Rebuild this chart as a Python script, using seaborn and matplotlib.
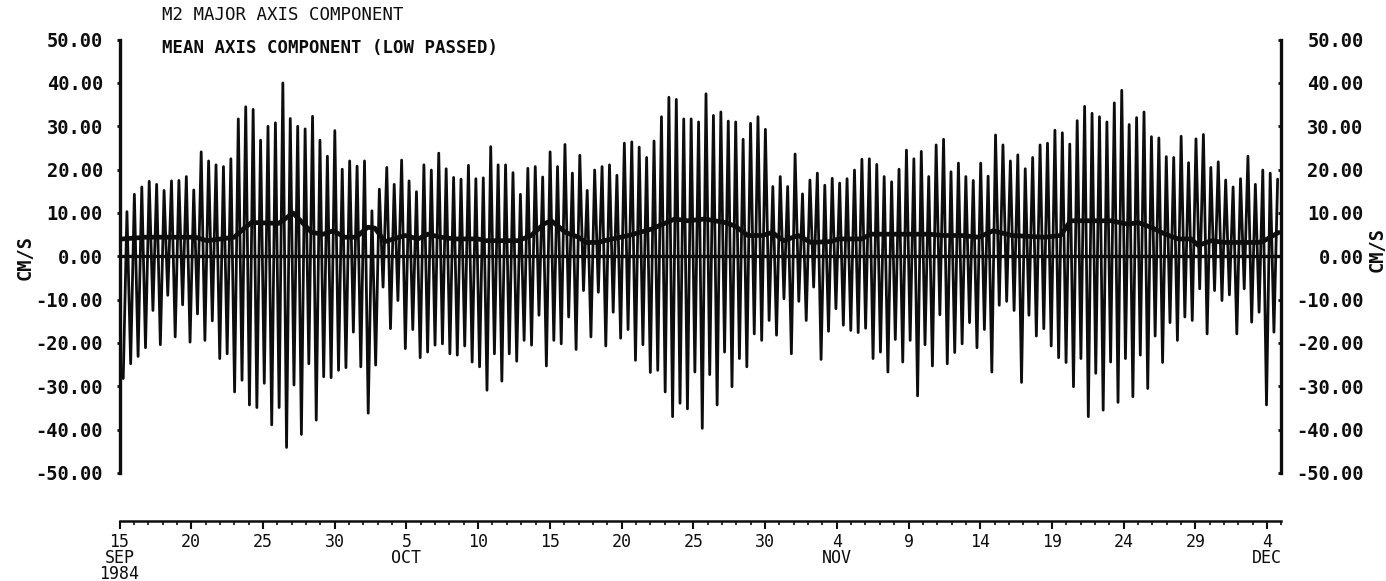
import numpy as np
import pandas as pd
import matplotlib
matplotlib.use("Agg")
import matplotlib.pyplot as plt
import seaborn as sns

# ---------------- text ----------------
title_top = "M2 MAJOR AXIS COMPONENT"
title_mean = "MEAN AXIS COMPONENT (LOW PASSED)"
y_label = "CM/S"

# ---------------- data ----------------
# time of the first extreme (days after 15 Sep 1984) and spacing of extremes (half an M2 cycle)
first_extreme_day = 0.26
half_cycle_hours = 6.21

# successive low (trough) values of the M2 major-axis current, cm/s
m2_lows = [
    -28.2, -24.8, -23.1, -21.1, -12.5, -20.4, -9.0, -18.6, -11.2, -19.8, -13.3, -19.4, -14.9, -23.6, -22.5,
    -31.3, -28.6, -34.3, -34.9, -29.3, -38.9, -34.9, -44.1, -29.7, -41.1, -24.8, -37.8, -27.8, -28.0, -26.3, -25.7,
    -17.5, -25.5, -36.2, -25.1, -7.1, -16.7, -10.2, -21.3, -16.9, -23.4, -22.1, -20.5, -20.2, -22.5, -22.8, -20.7,
    -24.4, -25.5, -30.9, -22.5, -28.8, -22.5, -24.2, -19.4, -20.5, -13.6, -25.3, -19.4, -20.2, -14.0, -21.5, -7.9,
    -18.6, -8.3, -20.7, -12.9, -18.9, -16.9, -24.0, -20.4, -26.8, -26.3, -31.3, -37.0, -33.9, -35.2, -26.7,
    -39.7, -27.3, -34.3, -22.1, -30.1, -23.6, -25.5, -17.9, -19.4, -14.8, -18.2, -9.8, -22.5, -10.4, -14.8,
    -7.1, -23.8, -17.3, -12.1, -15.9, -17.1, -17.6, -16.6, -23.6, -22.1, -26.7, -19.2, -24.4, -19.4, -32.2, -20.4,
    -25.3, -13.5, -24.8, -22.2, -20.2, -15.3, -21.1, -16.9, -26.7, -11.3, -10.4, -12.5, -29.1, -13.6, -18.4, -16.7, -20.7,
    -23.4, -24.5, -30.1, -23.6, -37.0, -27.0, -35.5, -24.4, -33.7, -23.6, -32.4, -22.8, -30.5, -18.4, -24.5,
    -15.3, -19.4, -14.0, -14.8, -7.5, -17.9, -7.9, -10.2, -8.9, -17.9, -7.5, -15.2, -12.9, -34.3, -17.5,
]

# successive high (crest) values, cm/s
m2_highs = [
    10.3, 14.3, 16.0, 17.3, 16.6, 15.2, 17.4, 17.5, 18.4, 15.3, 24.1, 22.0, 21.1, 20.7, 22.5, 31.7,
    34.5, 33.9, 26.8, 30.0, 30.8, 40.0, 31.8, 30.0, 29.4, 32.3, 26.8, 23.1, 29.0, 20.1, 22.0,
    20.8, 22.0, 10.5, 15.5, 20.5, 16.6, 22.2, 17.4, 14.9, 21.1, 19.9, 23.8, 20.2, 18.2, 17.8, 21.0,
    17.9, 18.1, 25.3, 21.1, 21.1, 19.3, 14.3, 20.3, 20.7, 18.3, 24.1, 20.7, 25.8, 19.2, 23.3,
    15.2, 19.9, 20.7, 21.1, 18.7, 26.1, 26.4, 25.2, 22.8, 26.6, 32.2, 36.7, 36.2, 31.7, 31.7, 31.0,
    37.5, 32.5, 33.3, 31.2, 31.0, 27.0, 30.7, 32.2, 29.3, 16.1, 18.4, 16.1, 23.6, 14.4, 17.6,
    19.2, 16.4, 18.0, 16.9, 17.9, 19.9, 22.4, 22.5, 21.2, 18.4, 17.2, 20.1, 24.5, 22.5, 24.2, 18.4,
    25.7, 27.0, 19.5, 21.5, 18.4, 17.5, 21.5, 18.5, 28.0, 25.7, 22.0, 23.4, 20.2, 22.8, 25.7, 26.1,
    29.1, 28.5, 25.9, 31.3, 34.6, 33.0, 32.2, 31.0, 35.4, 38.3, 30.4, 32.0, 33.3, 27.6, 27.3, 23.0,
    22.8, 27.7, 21.6, 27.1, 28.1, 20.5, 21.8, 17.6, 16.0, 17.9, 23.1, 16.6, 19.9, 19.2, 17.8,
]

# low-passed mean axis component: days after 15 Sep 1984 and cm/s
mean_day = [0.2, 1.8, 5.3, 6.1, 8.0, 8.7, 9.2, 11.1, 12.1, 13.4, 14.2, 14.9, 15.7, 16.5, 17.3, 17.8,
            18.5, 19.9, 20.8, 21.5, 22.4, 23.4, 25.0, 25.5, 27.8, 28.7, 29.6, 30.1, 31.1, 32.0, 32.5,
            33.4, 33.8, 35.5, 37.1, 38.7, 39.6, 40.8, 42.2, 42.9, 43.8, 44.8, 45.5, 46.3, 47.3, 48.2,
            49.6, 50.1, 51.7, 52.4, 56.4, 57.5, 58.7, 59.9, 60.9, 62.2, 64.5, 65.6, 66.3, 69.1, 70.3,
            71.0, 71.9, 72.9, 73.8, 74.7, 75.2, 76.1, 77.0, 79.4, 79.8, 80.8]
mean_val = [4.0, 4.4, 4.4, 3.6, 4.4, 6.5, 7.8, 7.6, 10.0, 5.5, 5.1, 5.9, 4.4, 4.4, 6.7, 6.5,
            3.4, 4.8, 4.0, 5.1, 4.4, 4.0, 4.0, 3.6, 3.6, 4.8, 7.5, 8.2, 5.5, 4.4, 3.2,
            3.2, 3.6, 4.8, 6.3, 8.6, 8.2, 8.6, 7.8, 7.0, 4.8, 4.8, 5.5, 3.6, 4.8, 3.2,
            3.4, 4.0, 4.0, 5.1, 5.1, 4.8, 4.8, 4.4, 5.9, 4.8, 4.4, 4.8, 8.2, 8.2, 7.4,
            7.8, 6.7, 5.1, 4.0, 4.0, 2.5, 3.6, 3.2, 3.2, 3.6, 5.5]

x_limits = [0, 81]
x_tick_days = list(range(0, 81, 5))
x_tick_labels = ["15\nSEP\n1984", "20", "25", "30", "5\nOCT", "10", "15", "20", "25", "30",
                 "4\nNOV", "9", "14", "19", "24", "29", "4\nDEC"]
x_minor_days = list(range(0, 82))
y_ticks = [-50, -40, -30, -20, -10, 0, 10, 20, 30, 40, 50]
y_tick_labels = ["-50.00", "-40.00", "-30.00", "-20.00", "-10.00", "0.00",
                 "10.00", "20.00", "30.00", "40.00", "50.00"]

# ---------------- build series ----------------
n = min(len(m2_lows), len(m2_highs))
extremes = np.empty(2 * n)
extremes[0::2] = m2_lows[:n]
extremes[1::2] = m2_highs[:n]
days = first_extreme_day + np.arange(2 * n) * half_cycle_hours / 24.0
df = pd.DataFrame({"day": days, "cms": extremes})
df_mean = pd.DataFrame({"day": mean_day, "cms": mean_val})

# ---------------- style ----------------
sns.set_style("white")
plt.rcParams["font.family"] = ["DejaVu Sans Mono", "DejaVu Sans"]
ink = "#0d0d0d"

fig = plt.figure(figsize=(13.86, 5.81), dpi=100)
ax = fig.add_axes([0.08622, 0.18589, 0.83838, 0.74596])

sns.lineplot(data=df, x="day", y="cms", ax=ax, color=ink, linewidth=2.0,
             estimator=None, sort=False)
ax.axhline(0, color=ink, linewidth=2.4, zorder=3)
sns.lineplot(data=df_mean, x="day", y="cms", ax=ax, color=ink, linewidth=3.4,
             estimator=None, sort=False, zorder=4)

ax.set_xlim(*x_limits)
ax.set_ylim(-50, 50)
ax.set_xlabel("")
ax.set_ylabel("")

# spines
ax.spines["top"].set_visible(False)
ax.spines["right"].set_visible(False)
ax.spines["left"].set_linewidth(2.4)
ax.spines["left"].set_color(ink)
ax.spines["bottom"].set_position(("outward", 34.5))
ax.spines["bottom"].set_linewidth(1.8)
ax.spines["bottom"].set_color(ink)

# x axis
ax.set_xticks(x_tick_days)
ax.set_xticklabels(x_tick_labels, fontsize=12, linespacing=0.88, color=ink)
ax.set_xticks(x_minor_days, minor=True)
ax.tick_params(axis="x", which="major", direction="out", length=5.5, width=1.5,
               color=ink, pad=3.0, bottom=True)
ax.tick_params(axis="x", which="minor", direction="out", length=2.6, width=1.2,
               color=ink, bottom=True)

# left y axis
ax.set_yticks(y_ticks)
ax.set_yticklabels(y_tick_labels, fontsize=13.5, fontweight="bold", color=ink)
ax.tick_params(axis="y", which="major", direction="out", length=2.0, width=2.0,
               color=ink, pad=10, left=True)

# right y axis
ax2 = ax.twinx()
ax2.set_ylim(-50, 50)
for side in ("top", "left", "bottom"):
    ax2.spines[side].set_visible(False)
ax2.spines["right"].set_linewidth(2.4)
ax2.spines["right"].set_color(ink)
ax2.set_yticks(y_ticks)
ax2.set_yticklabels(y_tick_labels, fontsize=13.5, fontweight="bold", color=ink)
ax2.tick_params(axis="y", which="major", direction="in", length=2.5, width=2.0,
                color=ink, pad=59, right=True)
for lbl in ax2.get_yticklabels():
    lbl.set_horizontalalignment("right")
ax2.grid(False)
ax.grid(False)

# axis titles
fig.text(25 / 1386, 1 - 258 / 581, y_label, rotation=90, ha="center", va="center",
         fontsize=13.5, fontweight="bold", color=ink)
fig.text(1377 / 1386, 1 - 249 / 581, y_label, rotation=90, ha="center", va="center",
         fontsize=13.5, fontweight="bold", color=ink)

# titles
fig.text(162 / 1386, 1 - 15 / 581, title_top, ha="left", va="center",
         fontsize=12.5, color=ink)
fig.text(162 / 1386, 1 - 48 / 581, title_mean, ha="left", va="center",
         fontsize=12.5, fontweight="bold", color=ink)

fig.savefig("out.png", dpi=100, facecolor="white")
